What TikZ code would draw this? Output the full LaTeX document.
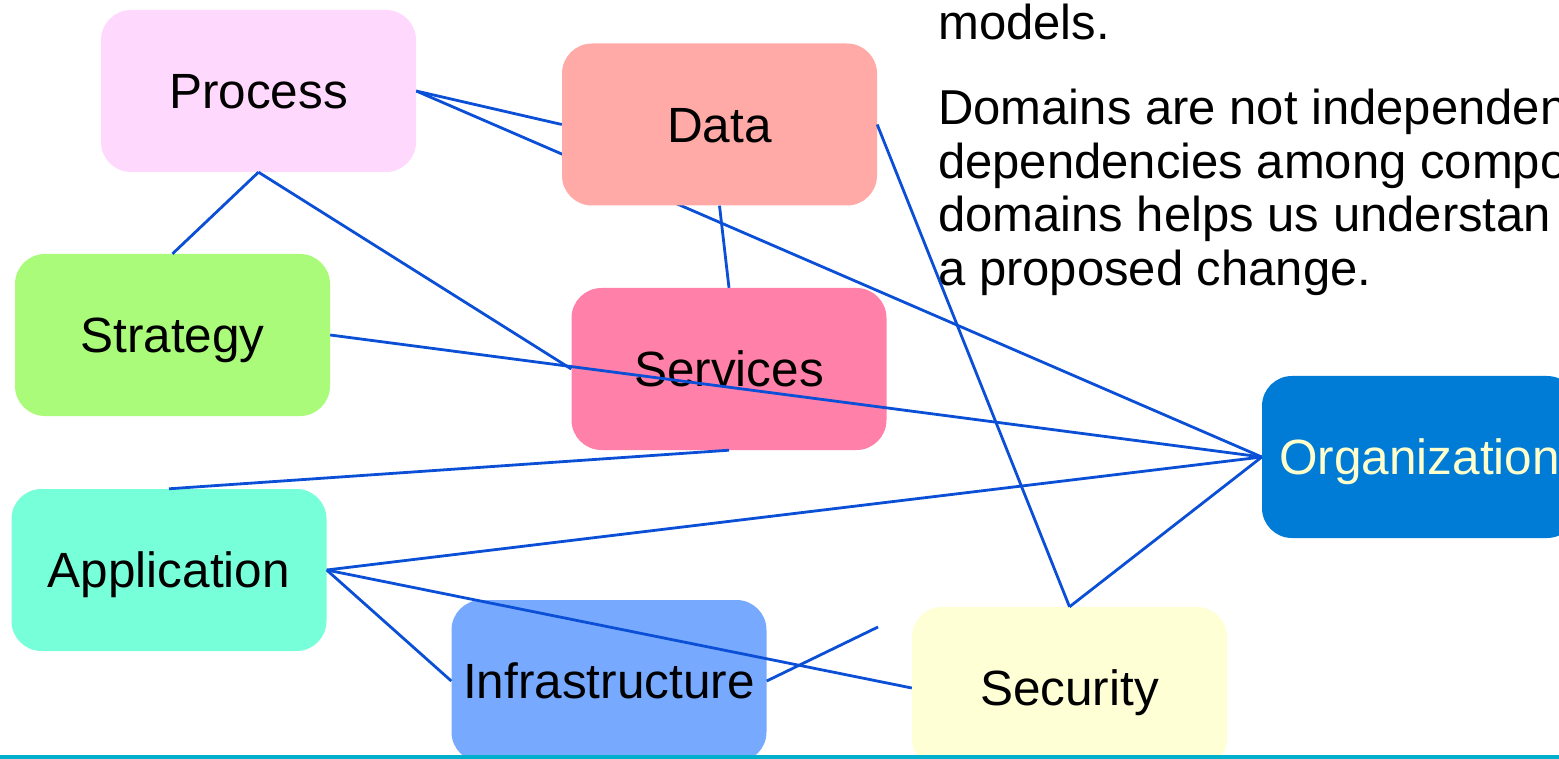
\documentclass[tikz,border=0pt]{standalone}
\usepackage{fontspec}
\setmainfont{Liberation Sans}
\definecolor{linkblue}{HTML}{0A4FD6}
\definecolor{cprocess}{HTML}{FFD8FE}
\definecolor{cdata}{HTML}{FFAAA7}
\definecolor{cstrategy}{HTML}{AAFB7A}
\definecolor{cservices}{HTML}{FF80A8}
\definecolor{capp}{HTML}{76FFD8}
\definecolor{cinfra}{HTML}{77AAFF}
\definecolor{csec}{HTML}{FFFFD6}
\definecolor{corg}{HTML}{007BD6}
\definecolor{orgtext}{HTML}{FFFFCC}
\definecolor{rulecol}{HTML}{00AFCB}
\pgfdeclarelayer{behind}
\pgfsetlayers{behind,main}
\begin{document}
\begin{tikzpicture}[x=1pt,y=-1pt,
  box/.style={rounded corners=30pt, minimum width=315pt, minimum height=162pt,
    inner sep=0pt, text height=35.4pt, text depth=0pt,
    font=\fontsize{49.5}{55}\selectfont},
  link/.style={draw=linkblue, line width=2.8pt},
  para/.style={anchor=base west, inner sep=0pt, font=\fontsize{49}{55}\selectfont},
  bottomrule/.style={draw=rulecol, line width=4.5pt}]
\path[use as bounding box] (0,0) rectangle (1559,759);
\clip (0,0) rectangle (1559,759);

% paragraph text
\node[para] (t1) at (938,40) {models.};
\node[para] (t2) at (938,125) {Domains are not independen};
\node[para] (t3) at (938,178.5) {dependencies among compo};
\node[para] (t4) at (938,232) {domains helps us understan};
\node[para] (t5) at (938,285.5) {a proposed change.};

% boxes
\node[box, fill=cprocess] (process) at (258.5,91) {Process};
\node[box, fill=cdata] (data) at (719.5,124.5) {Data};
\node[box, fill=cstrategy] (strategy) at (172.5,335) {Strategy};
\node[box, fill=cservices] (services) at (729,369) {Services};
\node[box, fill=capp] (application) at (169,570) {Application};
\node[box, fill=cinfra] (infra) at (609,681) {Infrastructure};
\node[box, fill=csec] (security) at (1069.5,688) {Security};
\node[box, fill=corg, text=orgtext] (organization) at (1419.5,457) {Organization};
\coordinate (infraend) at (878,627);

% connectors
\begin{pgfonlayer}{behind}
\draw[link] (process.east) -- (organization.west);
\end{pgfonlayer}
\draw[link] (process.east) -- (data.west);
\draw[link] (process.south) -- (strategy.north);
\draw[link] (process.south) -- (services.west);
\draw[link] (data.south) -- (services.north);
\draw[link] (data.east) -- (security.north);
\draw[link] (strategy.east) -- (organization.west);
\draw[link] (services.south) -- (application.north);
\draw[link] (application.east) -- (organization.west);
\draw[link] (application.east) -- (infra.west);
\draw[link] (application.east) -- (security.west);
\draw[link] (infra.east) -- (infraend);
\draw[link] (security.north) -- (organization.west);

% bottom rule
\coordinate (ruleL) at (0,757);
\coordinate (ruleR) at (1559,757);
\draw[bottomrule] (ruleL) -- (ruleR);
\end{tikzpicture}
\end{document}
